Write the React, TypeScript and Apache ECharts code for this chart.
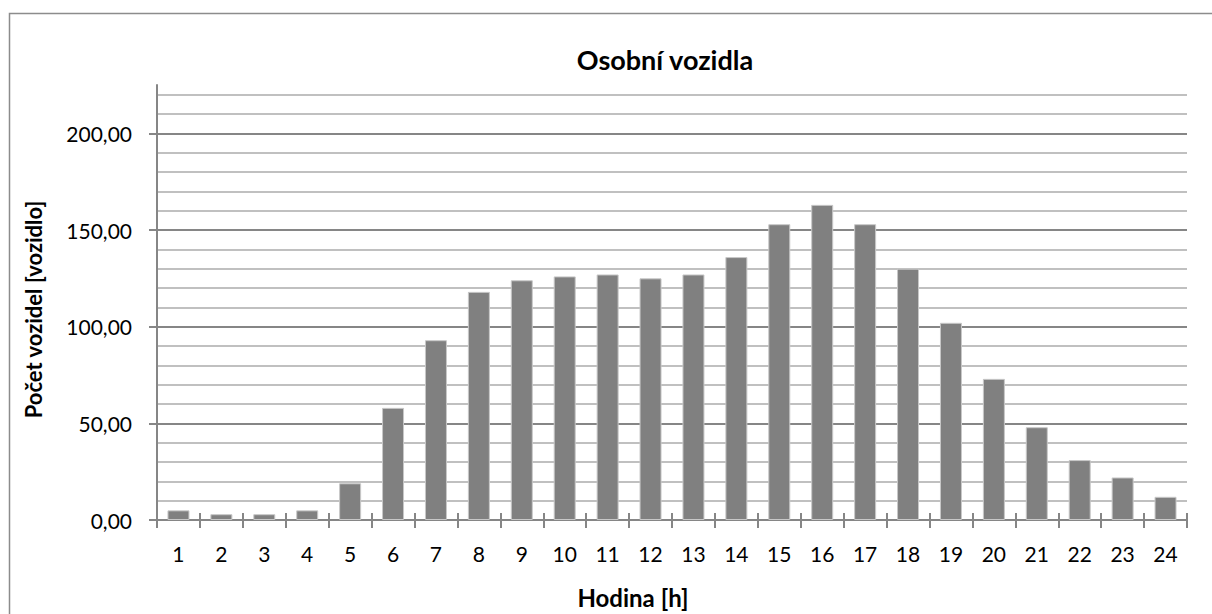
import React, { useEffect, useRef } from "react";
import * as echarts from "echarts";

const hours: string[] = ["1","2","3","4","5","6","7","8","9","10","11","12","13","14","15","16","17","18","19","20","21","22","23","24"];
const vehicles: number[] = [5, 3, 3, 5, 19, 58, 93, 118, 124, 126, 127, 125, 127, 136, 153, 163, 153, 130, 102, 73, 48, 31, 22, 12];
const yLabelValues: number[] = [0, 50, 100, 150, 200];

const FONT = "Lato";
const MAJOR = "#868686";
const MINOR = "#c0c0c0";

export default function App() {
  const ref = useRef<HTMLDivElement>(null);
  useEffect(() => {
    if (!ref.current) return;
    const chart = echarts.init(ref.current, undefined, { renderer: "svg" });
    const gridColors: string[] = [];
    for (let i = 0; i < 24; i++) gridColors.push(i === 23 ? "rgba(0,0,0,0)" : i % 5 === 0 ? MAJOR : MINOR);
    chart.setOption({
      animation: false,
      backgroundColor: "#ffffff",
      textStyle: { fontFamily: FONT },
      title: {
        text: "Osobní vozidla",
        left: 660,
        textAlign: "center",
        top: 41,
        textStyle: { fontFamily: FONT, fontWeight: "bold", fontSize: 27, color: "#000" },
      },
      graphic: [
        {
          type: "rect",
          shape: { x: 9.5, y: 13.5, width: 1400, height: 800 },
          style: { fill: "none", stroke: "#8c8c8c", lineWidth: 1.5 },
          silent: true,
          z: -1,
        },
      ],
      grid: { left: 157, right: 25, top: 85, bottom: 90, containLabel: false },
      xAxis: [
        {
          type: "category",
          data: hours,
          position: "bottom",
          name: "Hodina [h]",
          nameLocation: "middle",
          nameGap: 65,
          nameTextStyle: { fontFamily: FONT, fontWeight: "bold", fontSize: 24, color: "#000", padding: [0, 78, 0, 0] },
          axisLine: { show: true, lineStyle: { color: MAJOR, width: 2 } },
          axisTick: { show: true, alignWithLabel: false, inside: false, length: 8, lineStyle: { color: MAJOR, width: 2 } },
          axisLabel: { margin: 23, fontFamily: FONT, fontSize: 21, color: "#000", interval: 0 },
          splitLine: { show: false },
        },
        {
          type: "category",
          data: hours,
          position: "bottom",
          axisLine: { show: false },
          axisTick: { show: true, inside: true, length: 7, lineStyle: { color: MAJOR, width: 2 } },
          axisLabel: { show: false },
          splitLine: { show: false },
        },
      ],
      yAxis: [
        {
          type: "value",
          min: 0,
          max: 225,
          interval: 10,
          position: "left",
          name: "Počet vozidel [vozidlo]",
          nameLocation: "middle",
          nameGap: 113,
          nameTextStyle: { fontFamily: FONT, fontWeight: "bold", fontSize: 22, color: "#000", padding: [0, 14, 0, 0] },
          axisLine: { show: true, lineStyle: { color: MAJOR, width: 2 } },
          axisTick: { show: false },
          axisLabel: { show: false },
          splitLine: { show: true, showMaxLine: false, lineStyle: { color: gridColors, width: 2 } },
        },
        {
          type: "value",
          min: 0,
          max: 225,
          interval: 10,
          position: "left",
          offset: 0,
          axisLine: { show: false },
          axisTick: { show: true, length: 8, customValues: yLabelValues, lineStyle: { color: MAJOR, width: 2 } },
          axisLabel: {
            customValues: yLabelValues,
            margin: 25,
            fontFamily: FONT,
            fontSize: 21,
            color: "#000",
            formatter: (v: number) => v.toFixed(2).replace(".", ","),
          },
          splitLine: { show: false },
        },
      ],
      series: [
        {
          type: "bar",
          data: vehicles,
          xAxisIndex: 0,
          yAxisIndex: 0,
          barWidth: 22,
          itemStyle: { color: "#808080", borderColor: "#c8c8c8", borderWidth: 1 },
        },
      ],
    });
    return () => chart.dispose();
  }, []);
  return <div ref={ref} style={{ position: "fixed", left: 0, top: 0, width: 1212, height: 614 }} />;
}
